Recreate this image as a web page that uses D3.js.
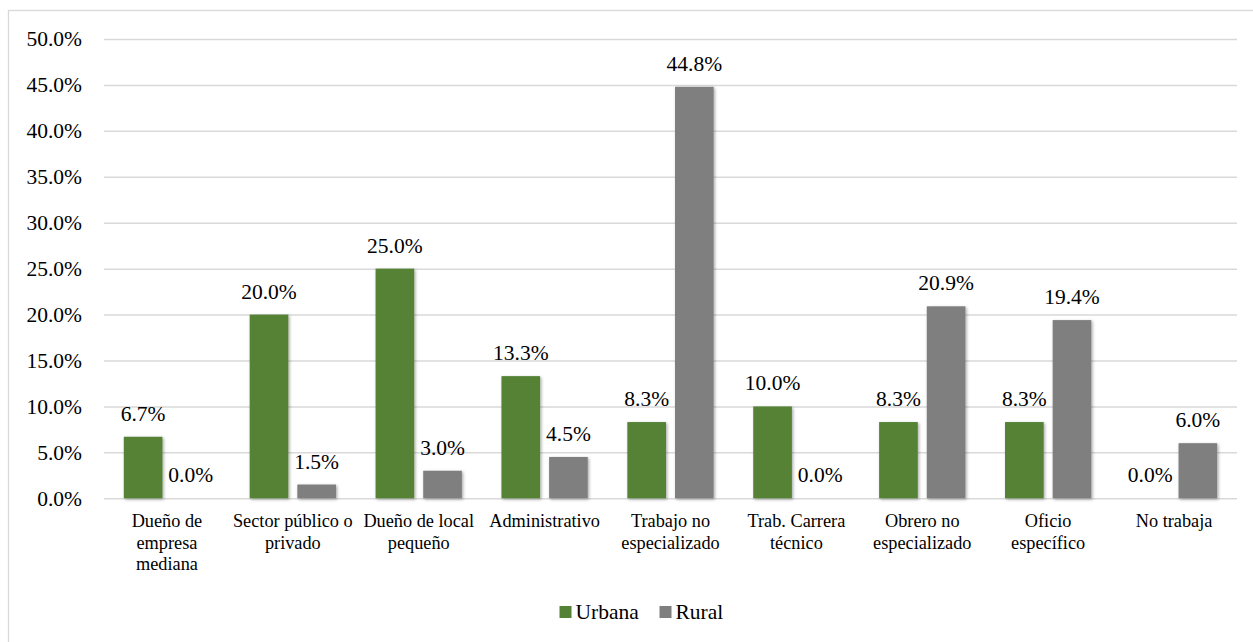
<!DOCTYPE html>
<html>
<head>
<meta charset="utf-8">
<script src="https://cdn.jsdelivr.net/npm/d3@7"></script>
<style>
  html, body { margin: 0; padding: 0; background: #fff; }
  svg text { font-family: "Liberation Serif", "Times New Roman", Tinos, "DejaVu Serif", serif; }
</style>
</head>
<body>
<svg id="chart" width="1253" height="642"></svg>
<script>
// Occupation categories and the share of each area (%)
const categories = [
  "Dueño de empresa mediana",
  "Sector público o privado",
  "Dueño de local pequeño",
  "Administrativo",
  "Trabajo no especializado",
  "Trab. Carrera técnico",
  "Obrero no especializado",
  "Oficio específico",
  "No trabaja"
];
const seriesNames = ["Urbana", "Rural"];
const urbana = [6.7, 20.0, 25.0, 13.3, 8.3, 10.0, 8.3, 8.3, 0.0];
const rural  = [0.0, 1.5, 3.0, 4.5, 44.8, 0.0, 20.9, 19.4, 6.0];
const yTicks = [0, 5, 10, 15, 20, 25, 30, 35, 40, 45, 50];
const colors = ["#548235", "#7f7f7f"];

const FONT = '"Liberation Serif", "Times New Roman", Tinos, "DejaVu Serif", serif';
const svg = d3.select("#chart");
const W = 1253, H = 642;
const plot = { left: 104, right: 1237, top: 39, bottom: 498.3 };

// Chart frame
svg.append("rect")
  .attr("x", 8.5).attr("y", 10.5)
  .attr("width", W + 10).attr("height", H + 10)
  .attr("fill", "#fff").attr("stroke", "#d9d9d9").attr("stroke-width", 1.3);

// Soft shadow under the bars
const defs = svg.append("defs");
const f = defs.append("filter").attr("id", "shadow")
  .attr("x", "-30%").attr("y", "-30%").attr("width", "160%").attr("height", "160%");
f.append("feDropShadow")
  .attr("dx", 1.2).attr("dy", 1.2).attr("stdDeviation", 1.8)
  .attr("flood-color", "#000").attr("flood-opacity", 0.35);

const x0 = d3.scaleBand().domain(categories).range([plot.left, plot.right]).paddingInner(0).paddingOuter(0);
const bw = x0.bandwidth();
const barW = bw * 0.307;
const gap = bw * 0.0715;
const x1 = d3.scaleOrdinal().domain(seriesNames)
  .range([(bw - 2 * barW - gap) / 2, (bw - 2 * barW - gap) / 2 + barW + gap]);

const y = d3.scaleLinear().domain([0, 50]).range([plot.bottom, plot.top]);

// Gridlines and axis
const yAxis = d3.axisLeft(y).tickValues(yTicks)
  .tickSize(-(plot.right - plot.left))
  .tickPadding(22)
  .tickFormat(d => d3.format(".1f")(d) + "%");
const gy = svg.append("g").attr("transform", `translate(${plot.left},0)`).call(yAxis)
  .attr("font-family", null).attr("font-size", null);
gy.select(".domain").remove();
gy.selectAll(".tick line").attr("stroke", "#d9d9d9").attr("stroke-width", 1.5);
gy.selectAll(".tick text")
  .attr("fill", "#000")
  .style("font-family", FONT).style("font-size", "21.5px");

// Bars
const rows = categories.map((c, i) => ({ cat: c, values: [urbana[i], rural[i]] }));
const groups = svg.append("g").selectAll("g").data(rows).join("g")
  .attr("transform", d => `translate(${x0(d.cat)},0)`);

groups.selectAll("rect")
  .data(d => d.values.map((v, k) => ({ key: seriesNames[k], v, k })))
  .join("rect")
  .filter(d => d.v > 0)
  .attr("x", d => x1(d.key))
  .attr("width", barW)
  .attr("y", d => y(d.v))
  .attr("height", d => y(0) - y(d.v))
  .attr("fill", d => colors[d.k])
  .attr("filter", "url(#shadow)");

// Value labels
groups.selectAll("text.val")
  .data(d => d.values.map((v, k) => ({ key: seriesNames[k], v, k })))
  .join("text")
  .attr("class", "val")
  .attr("x", d => x1(d.key) + barW / 2)
  .attr("y", d => y(d.v) - 16)
  .attr("text-anchor", "middle")
  .style("font-family", FONT).style("font-size", "21.5px")
  .attr("fill", "#000")
  .text(d => d3.format(".1f")(d.v) + "%");

// Category labels, wrapped to the band width
const catSize = 18.3, lineH = 21.5, maxW = 123;
categories.forEach(c => {
  const t = svg.append("text")
    .attr("text-anchor", "middle")
    .style("font-family", FONT).style("font-size", catSize + "px")
    .attr("fill", "#000");
  const cx = x0(c) + bw / 2;
  const words = c.split(" ");
  let lines = [], cur = [];
  const probe = svg.append("text").style("font-family", FONT).style("font-size", catSize + "px");
  words.forEach(w => {
    const test = cur.concat([w]).join(" ");
    probe.text(test);
    if (probe.node().getComputedTextLength() > maxW && cur.length) {
      lines.push(cur.join(" "));
      cur = [w];
    } else {
      cur.push(w);
    }
  });
  lines.push(cur.join(" "));
  probe.remove();
  lines.forEach((ln, i) => {
    t.append("tspan").attr("x", cx).attr("y", 527 + i * lineH).text(ln);
  });
});

// Legend
const legend = svg.append("g");
const legendItems = [
  { name: seriesNames[0], color: colors[0], x: 559.5 },
  { name: seriesNames[1], color: colors[1], x: 659.5 }
];
legendItems.forEach(it => {
  legend.append("rect").attr("x", it.x).attr("y", 606).attr("width", 12).attr("height", 12).attr("fill", it.color);
  legend.append("text").attr("x", it.x + 16).attr("y", 619)
    .style("font-family", FONT).style("font-size", "21.5px")
    .attr("fill", "#000").text(it.name);
});
</script>
</body>
</html>
